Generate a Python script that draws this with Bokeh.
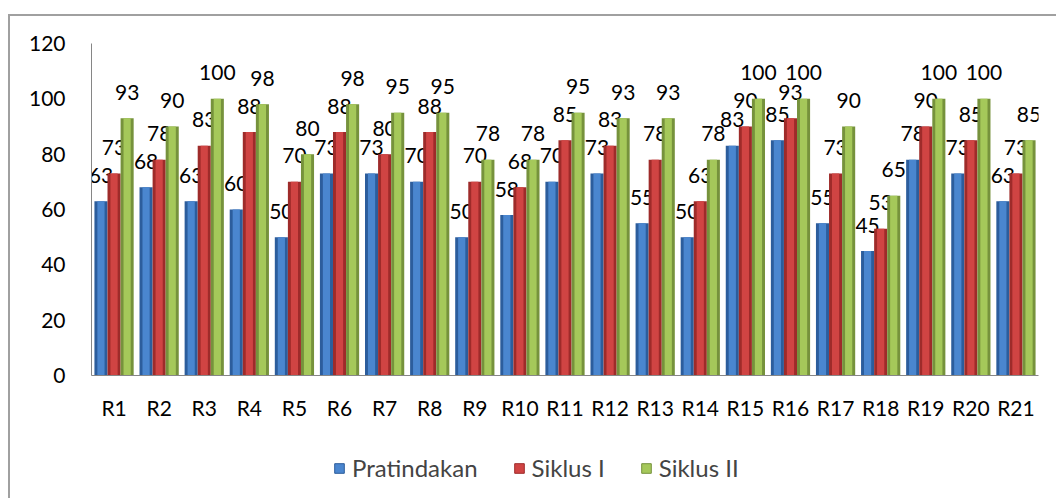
from bokeh.plotting import figure
from bokeh.layouts import column
from bokeh.models import ColumnDataSource, FactorRange, Legend, LegendItem, Range1d, SingleIntervalTicker
from bokeh.transform import dodge
from bokeh.core.properties import value
from bokeh.embed import file_html
from bokeh.resources import INLINE

categories = ["R1", "R2", "R3", "R4", "R5", "R6", "R7", "R8", "R9", "R10", "R11",
              "R12", "R13", "R14", "R15", "R16", "R17", "R18", "R19", "R20", "R21"]
pratindakan = [63, 68, 63, 60, 50, 73, 73, 70, 50, 58, 70, 73, 55, 50, 83, 85, 55, 45, 78, 73, 63]
siklus_1 = [73, 78, 83, 88, 70, 88, 80, 88, 70, 68, 85, 83, 78, 63, 90, 93, 73, 53, 90, 85, 73]
siklus_2 = [93, 90, 100, 98, 80, 98, 95, 95, 78, 78, 95, 93, 93, 78, 100, 100, 90, 65, 100, 100, 85]
series_names = ["Pratindakan", "Siklus I", "Siklus II"]

FONT = "Lato"
src = ColumnDataSource(dict(cat=categories, p=pratindakan, s1=siklus_1, s2=siklus_2,
                            lp=[str(v) for v in pratindakan],
                            l1=[str(v) for v in siklus_1],
                            l2=[str(v) for v in siklus_2]))

p = figure(x_range=FactorRange(*categories), y_range=Range1d(0, 120),
           width=1046, height=415, output_backend="svg", toolbar_location=None,
           min_border_left=81, min_border_right=18, min_border_top=27, min_border_bottom=56)

bw = 0.29
cols = [("p", "lp", -bw, "#2c5d9c", "#4a86cf"),
        ("s1", "l1", 0.0, "#9e2b2a", "#d04443"),
        ("s2", "l2", bw, "#76923c", "#a5c85a")]
for (field, lab, off, dark, light) in cols:
    x = dodge("cat", off, range=p.x_range)
    p.vbar(x=x, top=field, width=bw, source=src, fill_color=dark, line_color=None)
    p.vbar(x=x, top=field, width=bw * 0.55, source=src, fill_color=light, line_color=None)
    p.text(x=x, y=field, text=lab, source=src, text_align="center", text_baseline="middle",
           y_offset=-26, text_font=value(FONT), text_font_size="21px", text_color="black")

p.xgrid.grid_line_color = None
p.ygrid.grid_line_color = None
p.outline_line_color = None

p.yaxis.ticker = SingleIntervalTicker(interval=20)
p.yaxis.major_tick_line_color = None
p.yaxis.minor_tick_line_color = None
p.yaxis.axis_line_color = "#868686"
p.yaxis.major_label_standoff = 20
p.yaxis.major_label_text_font = FONT
p.yaxis.major_label_text_font_size = "21px"
p.yaxis.major_label_text_color = "black"

p.xaxis.major_tick_line_color = None
p.xaxis.axis_line_color = "#868686"
p.xaxis.major_label_standoff = 13
p.xaxis.major_label_text_font = FONT
p.xaxis.major_label_text_font_size = "21px"
p.xaxis.major_label_text_color = "black"

# legend strip below the chart; swatch renderers sit outside the visible range
lf = figure(width=1046, height=67, x_range=Range1d(0, 1), y_range=Range1d(0, 1),
            output_backend="svg", toolbar_location=None,
            x_axis_location=None, y_axis_location=None, min_border=0)
lf.xgrid.grid_line_color = None
lf.ygrid.grid_line_color = None
lf.outline_line_color = None
items = []
for (field, lab, off, dark, light), name in zip(cols, series_names):
    r = lf.quad(left=[10], right=[11], bottom=[10], top=[11], fill_color=light, line_color=dark)
    items.append(LegendItem(label=name, renderers=[r]))
legend = Legend(items=items, orientation="horizontal", location=(242, 16),
                glyph_width=12, glyph_height=12, label_standoff=7, spacing=35,
                label_text_font=FONT, label_text_font_size="24px",
                border_line_color=None, background_fill_alpha=0, padding=0, margin=0)
lf.add_layout(legend, "center")

layout = column(p, lf, spacing=0,
                styles={"border-top": "2px solid #a0a0a0", "border-left": "2px solid #a0a0a0",
                        "margin-top": "14px", "margin-left": "8px"})

open("out.html", "w").write(file_html(layout, INLINE))
